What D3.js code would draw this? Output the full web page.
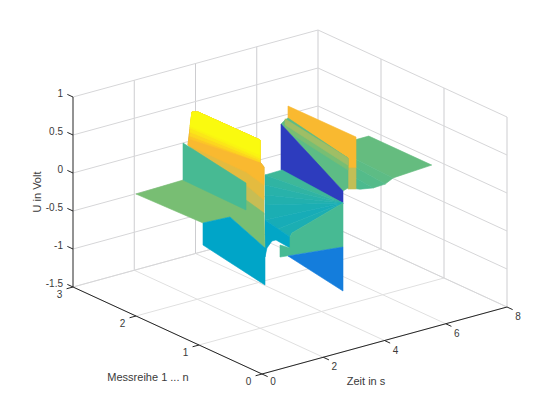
<!DOCTYPE html>
<html><head><meta charset="utf-8">
<script src="https://cdn.jsdelivr.net/npm/d3@7"></script>
<style>html,body{margin:0;padding:0;background:#fff}svg{display:block}text{font-family:"Liberation Sans",Arial,sans-serif;font-size:10px;fill:#3a3a3a}text.title{font-size:11px}</style>
</head><body><svg id="c" width="560" height="420"></svg>
<script>
const timeTicks=[0,2,4,6,8];
const rowTicks=[0,1,2,3];
const voltTicks=[-1.5,-1,-0.5,0,0.5,1];
const voltLabels=["-1.5","-1","-0.5","0","0.5","1"];
const colorVolts=[-1.5,-1.3,-0.95,-0.6,-0.25,-0.1,0.1,0.35,0.7,1];
const colorStops=["#352a87","#2d3cbe","#147ddc","#00a5c8","#28b2aa","#41b996","#78be73","#bebe5a","#fdb92d","#fafa0f"];
// surface facets, back to front: row, time and voltage of every corner, plus the facet's colour value
const facetRows=[
[2,2,1,1],[2,2,1,1],[2,2,1,1],[2,2,1,1,1],
[2,1,1,1,1,2],[1,1,1,1],
[2,2,1,1,1,2],[2,1,1,2],[2,1,1,2],
[2,1,1,2],
[2,1,2],[1,1,1],[1,1,1],[1,1,1],[1,1,1],[1,1,1],[1,1,1,1],
[1,1,1,1,1,1,1],[1,1,1,1,1,1,1],[1,1,1],
[2,2,2,1,1,1,1,1,2],[2,2,2,1,1,1,1,1,2],[2,2,2,1,1,1,1,1,2],
[2,2,2,1,1,2],[2,2,2,1,1,2],[2,2,2,1,1,2],[2,2,2,1,1,2],[2,2,2,1,1,2],
[2,2,1,1,1,1,1],[2,1,1,2],[1,1,1,1,1]];
const facetTimes=[
[7.6,6.34,6.34,7.6],[6.34,6.08,6.08,6.34],[6.08,5.69,5.69,6.08],[5.69,5.13,5.13,5.26,5.69],
[4.963,5.127,5.127,4.865,4.865,4.963],[4.865,5.127,5.127,4.865],
[4.865,4.963,4.865,4.865,4.702,4.735],[4.865,4.865,4.865,4.865],[4.865,4.865,4.865,4.865],
[4.735,4.702,4.702,4.735],
[4.212,4.702,4.767],[2.155,4.702,2.155],[2.155,4.702,2.155],[2.155,4.702,2.155],[2.155,4.702,2.155],[2.155,4.702,2.58],[2.58,4.702,3.037,2.971],
[2.155,2.971,2.971,2.514,2.384,2.22,2.155],[2.971,2.971,3.037,4.702,4.702,2.645,2.645],[2.906,4.702,4.702],
[1.698,1.829,2.024,1.992,1.992,2.122,2.122,1.535,1.698],[1.698,1.829,2.024,1.992,1.992,2.122,2.122,1.535,1.698],[1.698,1.829,2.024,1.992,1.992,2.122,2.122,1.535,1.698],
[1.763,1.829,2.024,1.992,1.992,1.763],[1.763,1.829,2.024,1.992,1.992,1.763],[1.763,1.829,2.024,1.992,1.992,1.763],[1.763,1.829,2.024,1.992,1.992,1.763],[1.763,1.829,2.024,1.992,1.992,1.763],
[0,1.535,1.535,2.122,2.155,1.012,0.131],[1.535,1.535,1.535,1.535],[0.131,0.131,2.155,2.155,1.012]];
const facetVolts=[
[0.03,0.03,0,0.03],[0.03,0.03,-0.053,0],[0.03,0.03,-0.06,-0.053],[0.03,0.03,-0.01,-0.03,-0.06],
[0.716,0.672,0.264,0.293,0.424,0.506],[0.293,0.264,-0.012,0.016],
[0.543,0.558,0.424,0.03,0.008,0.504],[0.543,0.424,0.266,0.411],[0.558,0.424,0.33,0.48],
[0.504,0.008,-0.163,-0.101],
[-0.109,-0.15,-0.104],[0.5,-0.15,0.368],[0.368,-0.15,0.236],[0.236,-0.15,0.105],[0.105,-0.15,-0.093],[-0.093,-0.15,-0.258],[-0.258,-0.15,-0.361,-0.406],
[-0.093,-0.406,-0.551,-0.395,-0.394,-0.468,-0.58],[-0.551,-0.406,-0.361,-0.15,-0.729,-0.634,-0.476],[-0.649,-0.729,-1.308],
[0.563,0.983,0.961,0.978,0.688,0.608,-0.023,0.173,0.563],[0.563,0.983,0.961,0.978,0.688,0.608,0.174,0.436,0.563],[0.563,0.983,0.961,0.978,0.688,0.608,0.371,0.607,0.563],
[0.635,0.983,0.961,0.978,0.688,0.635],[0.674,0.983,0.961,0.978,0.688,0.674],[0.726,0.983,0.961,0.978,0.715,0.726],[0.779,0.983,0.961,0.978,0.741,0.779],[0.806,0.983,0.961,0.978,0.781,0.806],
[0.105,0.12,0.239,0.003,-0.461,0.073,0.091],[0.607,0.462,0.107,0.12],[0.091,-0.199,-0.948,-0.461,0.073]];
const facetColors=[0.03,0,-0.03,-0.06,
0.68,0.38,
0,0.1,0.24,
-1.3,
-0.12,-0.2,-0.25,-0.3,-0.36,-0.4,-0.36,
-0.58,-0.08,-0.95,
0.4,0.56,0.68,
0.76,0.84,0.91,0.97,1,
0.1,-0.08,-0.6];

const xFromTime=d3.scaleLinear().domain([0,8]).range([0,245]);
const yFromTime=d3.scaleLinear().domain([0,8]).range([0,-67]);
const xFromRow=d3.scaleLinear().domain([0,3]).range([0,-189]);
const yFromRow=d3.scaleLinear().domain([0,3]).range([0,-87]);
const yFromVolt=d3.scaleLinear().domain([-1.5,1]).range([0,-190]);
const color=d3.scaleLinear().domain(colorVolts).range(colorStops).interpolate(d3.interpolateRgb);
const px=(t,r)=>262+xFromTime(t)+xFromRow(r);
const py=(t,r,u)=>374+yFromTime(t)+yFromRow(r)+yFromVolt(u);
const svg=d3.select("#c");
svg.append("rect").attr("width",560).attr("height",420).attr("fill","#fff");
function seg(g,a,b,st,w){g.append("line").attr("x1",px(a[0],a[1])).attr("y1",py(a[0],a[1],a[2])).attr("x2",px(b[0],b[1])).attr("y2",py(b[0],b[1],b[2])).attr("stroke",st).attr("stroke-width",w||1);}
const grid=svg.append("g");
const gV="#cdcdd0", gS="#d6d6d8", gF="#e0e0e0";
const tMax=8,rMax=3,uMin=-1.5,uMax=1;
timeTicks.forEach(t=>{seg(grid,[t,0,uMin],[t,rMax,uMin],gF);if(t>0)seg(grid,[t,rMax,uMin],[t,rMax,uMax],gV);});
rowTicks.forEach(r=>{seg(grid,[0,r,uMin],[tMax,r,uMin],gF);if(r<3)seg(grid,[tMax,r,uMin],[tMax,r,uMax],gV);});
voltTicks.forEach(u=>{seg(grid,[0,rMax,u],[tMax,rMax,u],gS);seg(grid,[tMax,rMax,u],[tMax,0,u],gS);});
const surf=svg.append("g");
surf.selectAll("path").data(facetRows.map((d,i)=>i)).join("path")
 .attr("d",i=>d3.line()(facetRows[i].map((r,k)=>[px(facetTimes[i][k],r),py(facetTimes[i][k],r,facetVolts[i][k])]))+"Z")
 .attr("fill",i=>color(facetColors[i])).attr("stroke",i=>color(facetColors[i])).attr("stroke-width",0.6).attr("stroke-linejoin","round");
const ax=svg.append("g"), axisCol="#262626";
seg(ax,[0,3,uMin],[0,3,uMax],axisCol);
seg(ax,[0,3,uMin],[0,0,uMin],axisCol);
seg(ax,[0,0,uMin],[8,0,uMin],axisCol);
voltTicks.forEach((u,i)=>{seg(ax,[0,3,u],[0,3.09,u],axisCol);
 ax.append("text").attr("x",px(0,3)-10).attr("y",py(0,3,u)-3).attr("text-anchor","end").attr("dy","0.32em").text(voltLabels[i]);});
rowTicks.forEach(r=>{seg(ax,[0,r,uMin],[-0.21,r,uMin],axisCol);
 ax.append("text").attr("x",px(0,r)-13.5).attr("y",py(0,r,uMin)+8).attr("text-anchor","middle").attr("dy","0.32em").text(r);});
timeTicks.forEach(t=>{seg(ax,[t,0,uMin],[t,-0.09,uMin],axisCol);
 ax.append("text").attr("x",px(t,0)+11).attr("y",py(t,0,uMin)+(t==0?8:10)).attr("text-anchor","middle").attr("dy","0.32em").text(t);});
ax.append("text").attr("class","title").attr("x",148).attr("y",377).attr("text-anchor","middle").attr("dy","0.32em").text("Messreihe 1 ... n");
ax.append("text").attr("class","title").attr("x",366).attr("y",381).attr("text-anchor","middle").attr("dy","0.32em").text("Zeit in s");
ax.append("text").attr("class","title").attr("transform","translate(37,192) rotate(-90)").attr("text-anchor","middle").attr("dy","0.32em").text("U in Volt");
</script></body></html>
